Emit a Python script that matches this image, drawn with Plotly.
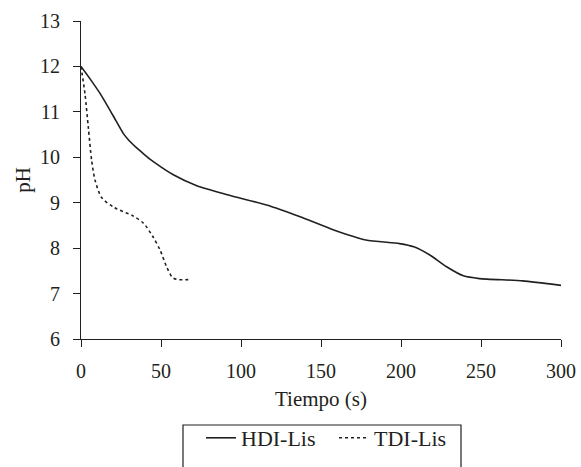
import plotly.graph_objects as go

hdi_t = [0, 6, 12, 20, 26.5, 30, 35, 40, 45, 58, 72, 92, 116, 137, 158, 178, 199, 208, 218, 228.5, 239, 249, 276, 300]
hdi_ph = [12.0, 11.71, 11.4, 10.92, 10.52, 10.37, 10.2, 10.05, 9.91, 9.61, 9.38, 9.17, 8.95, 8.69, 8.40, 8.18, 8.10, 8.03, 7.85, 7.59, 7.39, 7.33, 7.28, 7.18]

tdi_t = [0, 2.5, 4.6, 6.7, 8.9, 13, 21, 32.5, 39, 45, 49.4, 53.5, 57, 60, 69]
tdi_ph = [12.0, 11.39, 10.65, 9.92, 9.48, 9.11, 8.89, 8.71, 8.55, 8.25, 7.96, 7.59, 7.36, 7.31, 7.31]

x_ticks = [0, 50, 100, 150, 200, 250, 300]
y_ticks = [6, 7, 8, 9, 10, 11, 12, 13]

ink = "#231f20"
font = "Liberation Serif, Times New Roman, serif"

fig = go.Figure()
fig.add_trace(go.Scatter(x=hdi_t, y=hdi_ph, mode="lines", name="HDI-Lis",
                         line=dict(color=ink, width=1.6, shape="spline", smoothing=0.6)))
fig.add_trace(go.Scatter(x=tdi_t, y=tdi_ph, mode="lines", name="TDI-Lis",
                         line=dict(color=ink, width=1.6, dash="dot", shape="spline", smoothing=0.8)))

W, H = 581, 467
L, R, T, B = 81, 20, 21, 128
PW, PH = W - L - R, H - T - B

fig.update_layout(
    width=W, height=H,
    margin=dict(l=L, r=R, t=T, b=B, autoexpand=False),
    paper_bgcolor="white", plot_bgcolor="white",
    font=dict(family=font, size=20, color=ink),
    showlegend=True,
    legend=dict(orientation="h", x=(201 - L) / PW, xanchor="left",
                y=-(438 - (H - B)) / PH, yanchor="middle",
                font=dict(size=22, family=font, color=ink),
                bgcolor="rgba(0,0,0,0)", borderwidth=0, itemwidth=30,
                entrywidth=88, entrywidthmode="pixels"),
    xaxis=dict(range=[0, 300], tickvals=x_ticks, ticktext=[str(v) for v in x_ticks],
               showline=True, linecolor=ink, linewidth=1.2, ticks="outside",
               ticklen=7, tickcolor=ink, tickwidth=1.2, showgrid=False, zeroline=False,
               automargin=False, ticklabelstandoff=7,
               title=dict(text="Tiempo (s)", font=dict(size=21), standoff=10)),
    yaxis=dict(range=[6, 13], tickvals=y_ticks, ticktext=[str(v) for v in y_ticks],
               showline=True, linecolor=ink, linewidth=1.2, ticks="outside",
               ticklen=7, tickcolor=ink, tickwidth=1.2, showgrid=False, zeroline=False,
               automargin=False, ticklabelstandoff=9,
               title=dict(text="pH", font=dict(size=21), standoff=3)),
    shapes=[dict(type="rect", xref="paper", yref="paper",
                 x0=(183 - L) / PW, x1=(461 - L) / PW,
                 y0=-(480 - (H - B)) / PH, y1=-(425 - (H - B)) / PH,
                 line=dict(color=ink, width=1.2), fillcolor="rgba(0,0,0,0)")],
)

fig.write_html("out.html")
